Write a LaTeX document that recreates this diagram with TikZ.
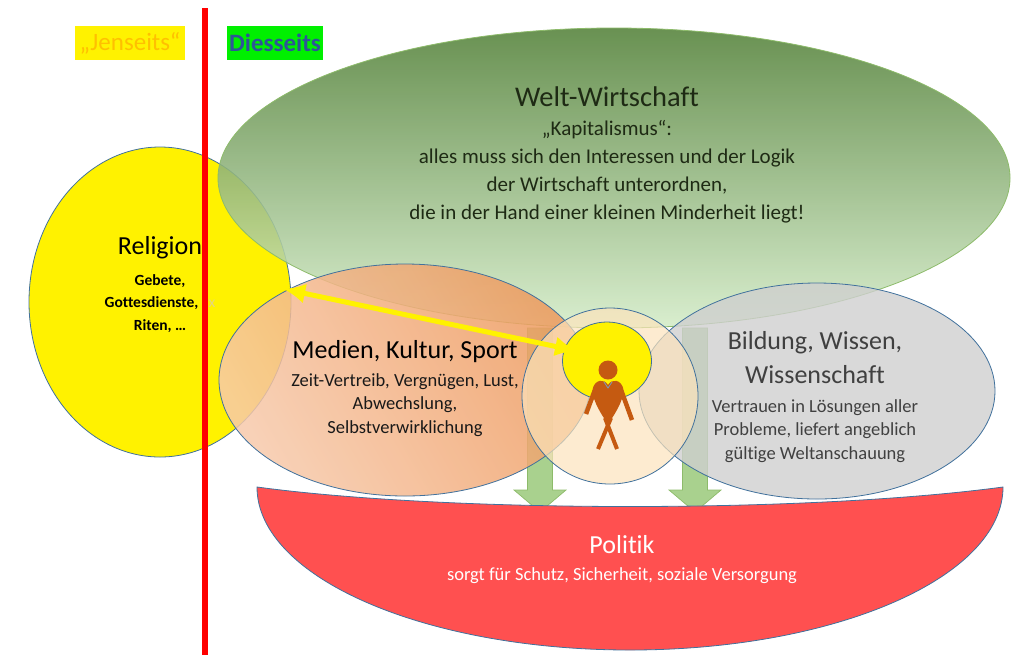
\documentclass[tikz,border=0pt]{standalone}
\usepackage{fontspec}
\setmainfont{Carlito}[Ligatures=NoCommon]
\usepackage{tikz}
\usetikzlibrary{shapes.geometric}
\usetikzlibrary{arrows.meta}
\usetikzlibrary{positioning}
\usepackage{xcolor}

\definecolor{rimblue}{HTML}{41719C}
\definecolor{wwdark}{HTML}{54823A}
\definecolor{wwlight}{HTML}{D4ECC8}
\definecolor{wwrim}{HTML}{8DBB6A}
\definecolor{wwtextc}{HTML}{1E2A14}
\definecolor{medlight}{HTML}{F7C9AA}
\definecolor{meddark}{HTML}{EE9A5E}
\definecolor{bildgrey}{HTML}{CFCFCF}
\definecolor{peach}{HTML}{FCE3BC}
\definecolor{manbrown}{HTML}{C55A11}
\definecolor{arrgreen}{HTML}{A9D18E}
\definecolor{polred}{HTML}{FF5050}
\definecolor{jgold}{HTML}{FFC000}
\definecolor{dblue}{HTML}{2E5597}
\definecolor{dgreen}{HTML}{00F000}
\definecolor{xxfaint}{HTML}{E4D680}

\begin{document}
\begin{tikzpicture}[x=1pt,y=-1pt,
  blob/.style={ellipse,draw=rimblue,line width=0.8pt,inner sep=0pt},
  headline/.style={font=\fontsize{26}{34}\selectfont,align=center},
  subline/.style={font=\fontsize{18.5}{23.5}\selectfont,align=center},
  downarrow/.style={fill=arrgreen,draw=wwrim,line width=0.7pt}]
\useasboundingbox (0,0) rectangle (1024,657);

\node [blob,fill=yellow,minimum width=262pt,minimum height=310pt] (religion) at (160,302) {};
\node [blob,draw=wwrim,top color=wwdark,bottom color=wwlight,fill opacity=0.88,minimum width=792pt,minimum height=300pt] (welt) at (614,178) {};

% arrows down to Politik
\foreach \ax in {540,695}
  \draw [downarrow] (\ax-12.5,328) -- (\ax+12.5,328) -- (\ax+12.5,490) -- (\ax+26,490) -- (\ax,512) -- (\ax-26,490) -- (\ax-12.5,490) -- cycle;

\node [blob,left color=medlight,right color=meddark,shading angle=120,fill opacity=0.85,minimum width=372pt,minimum height=232pt] (medien) at (405,380) {};
\node [blob,fill=bildgrey,fill opacity=0.8,minimum width=356pt,minimum height=216pt] (bildung) at (817,391) {};
\node [blob,circle,fill=peach,fill opacity=0.7,minimum size=176pt] (mensch) at (610,396) {};
\node [blob,fill=yellow,minimum width=89pt,minimum height=78pt] (inner) at (607,361) {};

% the person
\node [circle,fill=manbrown,minimum size=19pt,inner sep=0pt] (head) at (608,370) {};
\draw [manbrown,line width=4.5pt] (596,387) -- (586,414);
\draw [manbrown,line width=4.5pt] (620,387) -- (632,420);
\draw [manbrown,line width=4pt] (605,418) -- (617,449);
\draw [manbrown,line width=4pt] (611,418) -- (598,449);
\fill [manbrown] (608,424) .. controls (598,410) and (591,396) .. (593,388) .. controls (595,380) and (604,378) .. (608,385) .. controls (612,378) and (621,380) .. (623,388) .. controls (625,396) and (618,410) .. (608,424) -- cycle;
\draw [rimblue!70,line width=0.8pt] (604,382) -- (608,388) -- (612,382);

% Politik
\path [fill=polred,draw=rimblue,line width=0.8pt] (257,487) .. controls (450,513) and (810,513) .. (1003,487) .. controls (1003,577) and (836,650) .. (630,650) .. controls (424,650) and (257,577) .. (257,487) -- cycle;

\coordinate (gaze) at (577,351);
\draw [yellow,line width=5pt,shorten <=-8pt,{Latex[length=22pt,width=20pt]}-{Latex[length=22pt,width=20pt]}] (religion.5) -- (gaze);

\node [headline] (reltitle) at (160,248) {Religion};
\node [font=\fontsize{15.5}{22.5}\selectfont\bfseries,align=center,below=8pt,at=(reltitle.south)] (reltext) {Gebete,\\Gottesdienste, {\mdseries\color{xxfaint}xx}\\Riten, …};

\draw [red,line width=6.5pt] (205,8) -- (205,655);

\node [fill=yellow,text=jgold,font=\fontsize{25}{28}\selectfont,minimum width=110pt,minimum height=34pt,inner sep=0pt] (jenseits) at (130,43) {„Jenseits“};
\node [fill=dgreen,text=dblue,font=\fontsize{25}{28}\selectfont\bfseries,minimum width=96pt,minimum height=34pt,inner sep=0pt] (diesseits) at (275,43) {Diesseits};

\node [font=\fontsize{28.5}{32}\selectfont,text=wwtextc] (wwtitle) at (607,97) {Welt-Wirtschaft};
\node [font=\fontsize{21}{28}\selectfont,align=center,text=wwtextc,below=6pt,at=(wwtitle.south)] (wwtext) {„Kapitalismus“:\\alles muss sich den Interessen und der Logik\\der Wirtschaft unterordnen,\\die in der Hand einer kleinen Minderheit liegt!};

\node [headline] (medtitle) at (405,352) {Medien, Kultur, Sport};
\node [subline,text=black!90,below=3pt,at=(medtitle.south)] (medtext) {Zeit-Vertreib, Vergnügen, Lust,\\Abwechslung,\\Selbstverwirklichung};

\node [headline,text=black!75] (biltitle) at (815,358) {Bildung, Wissen,\\Wissenschaft};
\node [subline,text=black!75,below=8pt,at=(biltitle.south)] (biltext) {Vertrauen in Lösungen aller\\Probleme, liefert angeblich\\gültige Weltanschauung};

\node [font=\fontsize{26}{30}\selectfont,text=white] (poltitle) at (622,545) {Politik};
\node [font=\fontsize{18.5}{22}\selectfont,text=white,below=6pt,at=(poltitle.south)] (poltext) {sorgt für Schutz, Sicherheit, soziale Versorgung};
\end{tikzpicture}
\end{document}
